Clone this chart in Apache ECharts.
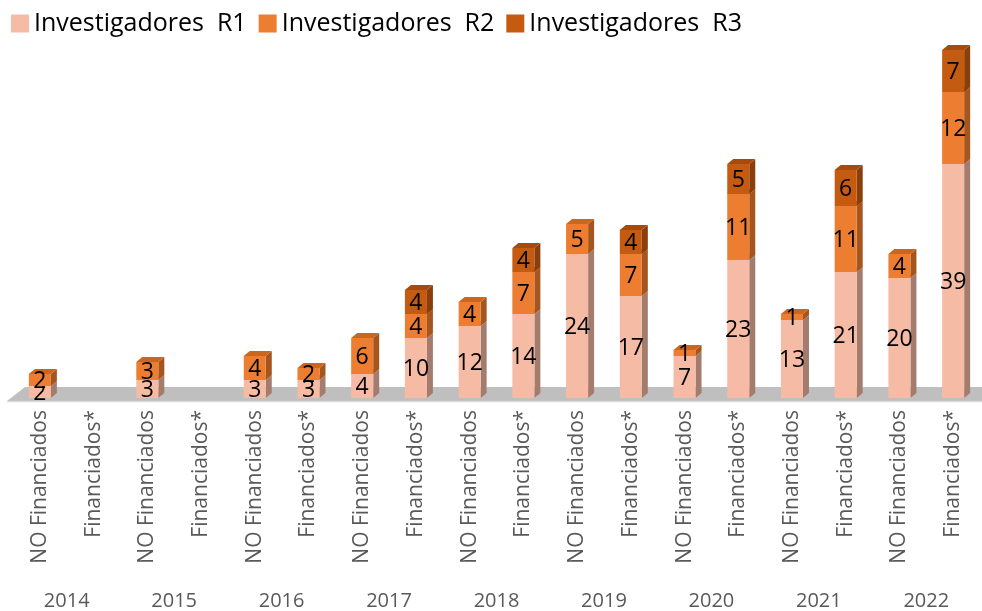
<!DOCTYPE html>
<html>
<head>
<meta charset="utf-8">
<script src="https://cdn.jsdelivr.net/npm/echarts@6/dist/echarts.min.js"></script>
<style>
  html, body { margin: 0; padding: 0; background: #fff; }
  #chart { width: 982px; height: 611px; }
</style>
</head>
<body>
<div id="chart"></div>
<script>
// categorias: dos columnas por año
var years = ["2014", "2015", "2016", "2017", "2018", "2019", "2020", "2021", "2022"];
var groups = [];
for (var i = 0; i < years.length; i++) {
    groups.push("NO Financiados");
    groups.push("Financiados*");
}

// valores por serie (0 = sin bloque)
var invR1 = [2, 0, 3, 0, 3, 3, 4, 10, 12, 14, 24, 17, 7, 23, 13, 21, 20, 39];
var invR2 = [2, 0, 3, 0, 4, 2, 6, 4, 4, 7, 5, 7, 1, 11, 1, 11, 4, 12];
var invR3 = [0, 0, 0, 0, 0, 0, 0, 4, 0, 4, 0, 4, 0, 5, 0, 6, 0, 7];

var names = ["Investigadores  R1", "Investigadores  R2", "Investigadores  R3"];
var faces = [
    { front: "#F6BBA4", side: "#A47C6E", top: "#DBA18B" },
    { front: "#ED7D31", side: "#A5561F", top: "#C9661F" },
    { front: "#C55A11", side: "#8A3E0B", top: "#A64B0D" }
];

// datos apilados: [indice, base, valor]
function stackData(vals, below) {
    var out = [];
    for (var i = 0; i < vals.length; i++) {
        var b = 0;
        for (var k = 0; k < below.length; k++) b += below[k][i];
        out.push([i, b, vals[i]]);
    }
    return out;
}

var DX = 6, DY = 5;

function renderBlock(params, api) {
    var val = api.value(2);
    if (!val) return null;
    var base = api.value(1);
    var f = faces[params.seriesIndex - 1];
    var p0 = api.coord([api.value(0), base]);
    var p1 = api.coord([api.value(0), base + val]);
    var w = api.size([1, 0])[0] * 0.41;
    var xl = p0[0] - w / 2, xr = p0[0] + w / 2;
    var yb = p0[1], yt = p1[1];
    return {
        type: "group",
        children: [
            { type: "polygon", shape: { points: [[xr, yb], [xr + DX, yb - DY], [xr + DX, yt - DY], [xr, yt]] },
              style: { fill: f.side } },
            { type: "polygon", shape: { points: [[xl, yt], [xl + DX, yt - DY], [xr + DX, yt - DY], [xr, yt]] },
              style: { fill: f.top } },
            { type: "rect", shape: { x: xl, y: yt, width: w, height: yb - yt },
              style: { fill: f.front } },
            { type: "text", style: { text: String(val), x: p0[0], y: (yb + yt) / 2 + 1,
              align: "center", verticalAlign: "middle", fill: "#000",
              font: "23px 'Open Sans', sans-serif" } }
        ]
    };
}

function renderFloor(params, api) {
    var a = api.coord([0, 0]);
    var b = api.coord([groups.length - 1, 0]);
    var band = api.size([1, 0])[0];
    var xl = a[0] - band / 2, xr = b[0] + band / 2;
    var y = a[1];
    return {
        type: "group",
        children: [
            { type: "polygon", shape: { points: [[xl - 6, y + 3], [xr + 6, y + 3], [xr + 20, y - 11], [xl + 12, y - 11]] },
              style: { fill: "#BFBFBF" } },
            { type: "line", shape: { x1: xl - 6, y1: y + 3.5, x2: xr + 6, y2: y + 3.5 },
              style: { stroke: "#D9D9D9", lineWidth: 1.5 } }
        ]
    };
}

var myChart = echarts.init(document.getElementById("chart"));

var series = [{
    type: "custom",
    name: "piso",
    xAxisIndex: 0,
    renderItem: renderFloor,
    data: [[0]],
    silent: true,
    z: 1
}];
var all = [invR1, invR2, invR3];
for (var s = 0; s < 3; s++) {
    series.push({
        type: "custom",
        name: names[s],
        xAxisIndex: 0,
        renderItem: renderBlock,
        itemStyle: { color: faces[s].front },
        encode: { x: 0, y: [1, 2] },
        data: stackData(all[s], all.slice(0, s)),
        z: 2 + s
    });
}

option = {
    backgroundColor: "#fff",
    animation: false,
    legend: {
        data: names,
        left: 6,
        top: 6,
        icon: "rect",
        itemWidth: 18,
        itemHeight: 18,
        itemGap: 12,
        textStyle: {
            fontSize: 25,
            color: "#000",
            fontFamily: "'Open Sans', sans-serif"
        }
    },
    grid: {
        left: 13,
        right: 2,
        top: 38,
        bottom: 213,
        containLabel: false,
        outerBoundsMode: "none"
    },
    xAxis: [{
        type: "category",
        data: groups,
        axisLine: { show: false },
        axisTick: { show: false },
        axisLabel: {
            interval: 0,
            rotate: 90,
            margin: 12,
            fontSize: 21,
            color: "#595959",
            fontFamily: "'Open Sans', sans-serif"
        }
    }, {
        type: "category",
        data: years,
        position: "bottom",
        offset: 185,
        axisLine: { show: false },
        axisTick: { show: false },
        axisLabel: {
            interval: 0,
            fontSize: 20,
            color: "#595959",
            fontFamily: "'Open Sans', sans-serif"
        }
    }],
    yAxis: {
        type: "value",
        min: 0,
        max: 60,
        show: false,
        splitLine: { show: false }
    },
    series: series
};
myChart.setOption(option);
</script>
</body>
</html>
